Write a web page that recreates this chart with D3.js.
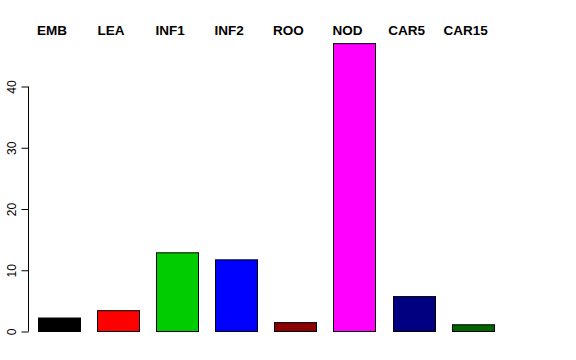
<!DOCTYPE html>
<html><head><meta charset="utf-8">
<script src="https://cdn.jsdelivr.net/npm/d3@7"></script>
<style>body{margin:0;background:#fff}svg{display:block}</style>
</head><body>
<svg id="c" width="576" height="360"></svg>
<script>
const categories = ["EMB","LEA","INF1","INF2","ROO","NOD","CAR5","CAR15"];
const values = [2.2, 3.4, 12.85, 11.7, 1.45, 47.0, 5.7, 1.1];
const colors = ["#000000","#FF0000","#00CD00","#0000FF","#8B0000","#FF00FF","#000080","#006400"];
const yTicks = [0,10,20,30,40];

const svg = d3.select("#c");
const x = d3.scaleBand().domain(categories).range([29, 502.6]).paddingInner(0.29).paddingOuter(0.152);
const y = d3.scaleLinear().domain([0,40]).range([331,86]);

svg.selectAll("rect.bar").data(categories).enter().append("rect")
  .attr("x", d => Math.round(x(d)) + 0.5)
  .attr("y", (d,i) => y(values[i]) + 0.5)
  .attr("width", Math.round(x.bandwidth()))
  .attr("height", (d,i) => y(0) - y(values[i]))
  .attr("fill", (d,i) => colors[i])
  .attr("stroke", "#000").attr("stroke-width", 1);

const ax = svg.append("g").attr("transform","translate(28.5,0.5)")
  .call(d3.axisLeft(y).tickValues(yTicks).tickSize(7).tickPadding(5).tickFormat(d3.format("d")));
ax.select(".domain").attr("d", `M-7,${y(0)}H0V${y(40)}H-7`).attr("stroke","#000");
ax.selectAll(".domain").attr("d", `M0,${y(0)}V${y(40)}`);
ax.selectAll(".tick line").attr("stroke","#000");
ax.selectAll(".tick text")
  .attr("font-family","Liberation Sans, Arial, sans-serif").attr("font-size","12px").attr("fill","#000")
  .attr("transform","rotate(-90)").attr("x",0).attr("y",-13).attr("dy",0).attr("text-anchor","middle");

svg.selectAll("text.lab").data(categories).enter().append("text")
  .attr("x", d => x(d) + x.bandwidth()/2 - 7)
  .attr("y", 35)
  .attr("text-anchor","middle")
  .attr("font-family","Liberation Sans, Arial, sans-serif")
  .attr("font-weight","bold").attr("font-size","13.5px").attr("fill","#000")
  .text(d => d);
</script>
</body></html>
